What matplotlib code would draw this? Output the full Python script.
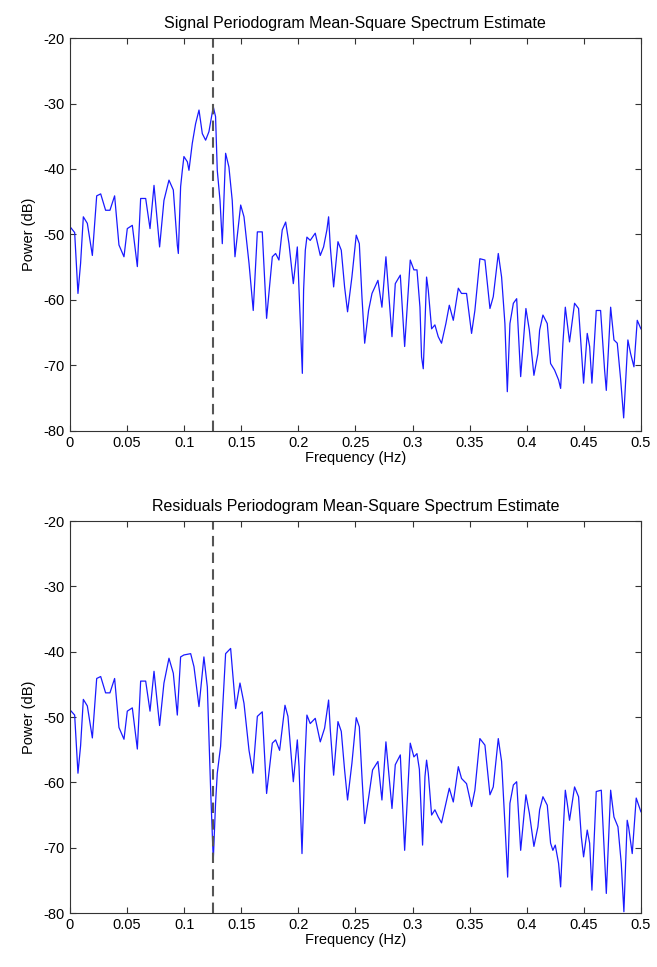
import numpy as np
import matplotlib
matplotlib.use("Agg")
import matplotlib.pyplot as plt

plt.rcParams['font.family'] = ['Liberation Sans', 'DejaVu Sans']
plt.rcParams['axes.unicode_minus'] = False

# Signal periodogram (Hz, dB)
f_sig = [0.0, 0.0041, 0.0070, 0.0093, 0.0117, 0.0152, 0.0196, 0.0234, 0.0269, 0.0312,
         0.0350, 0.0391, 0.0429, 0.0473, 0.0502, 0.0546, 0.0590, 0.0619, 0.0663, 0.0701,
         0.0736, 0.0785, 0.0823, 0.0867, 0.0905, 0.0940, 0.0949, 0.0969, 0.0984, 0.0998,
         0.1028, 0.1042, 0.1071, 0.1100, 0.1130, 0.1159, 0.1188, 0.1217, 0.1255, 0.1275,
         0.1290, 0.1314, 0.1334, 0.1363, 0.1392, 0.1421, 0.1445, 0.1495, 0.1524, 0.1568,
         0.1605, 0.1641, 0.1684, 0.1713, 0.1722, 0.1772, 0.1801, 0.1830, 0.1859, 0.1889,
         0.1918, 0.1956, 0.1991, 0.2006, 0.2035, 0.2046, 0.2061, 0.2075, 0.2104, 0.2148,
         0.2192, 0.2221, 0.2250, 0.2265, 0.2280, 0.2309, 0.2347, 0.2376, 0.2405, 0.2431,
         0.2469, 0.2507, 0.2534, 0.2557, 0.2581, 0.2615, 0.2645, 0.2697, 0.2732, 0.2767,
         0.2791, 0.2820, 0.2849, 0.2893, 0.2931, 0.2980, 0.3012, 0.3039, 0.3065, 0.3079,
         0.3094, 0.3109, 0.3123, 0.3138, 0.3167, 0.3196, 0.3225, 0.3254, 0.3292, 0.3322,
         0.3357, 0.3401, 0.3429, 0.3473, 0.3517, 0.3546, 0.3590, 0.3634, 0.3678, 0.3707,
         0.3751, 0.3780, 0.3809, 0.3830, 0.3853, 0.3883, 0.3912, 0.3947, 0.3993, 0.4023,
         0.4063, 0.4098, 0.4113, 0.4142, 0.4180, 0.4209, 0.4244, 0.4279, 0.4297, 0.4317,
         0.4338, 0.4355, 0.4375, 0.4419, 0.4454, 0.4478, 0.4498, 0.4530, 0.4551, 0.4571,
         0.4609, 0.4647, 0.4682, 0.4697, 0.4735, 0.4764, 0.4793, 0.4823, 0.4849, 0.4886,
         0.4910, 0.4939, 0.4968, 0.5]
p_sig = [-48.8, -49.7, -59.0, -54.4, -47.3, -48.3, -53.2, -44.1, -43.8, -46.3,
         -46.3, -44.1, -51.6, -53.4, -49.1, -48.6, -54.9, -44.5, -44.5, -49.1,
         -42.5, -51.9, -44.8, -41.7, -43.2, -51.6, -52.9, -42.7, -40.2, -38.1,
         -38.9, -40.2, -36.1, -33.1, -31.0, -34.6, -35.6, -34.3, -30.5, -32.0,
         -40.2, -44.8, -51.4, -37.6, -39.7, -44.8, -53.4, -45.5, -47.3, -54.4,
         -61.6, -49.6, -49.6, -59.5, -62.8, -53.4, -52.9, -53.9, -49.3, -48.1,
         -51.4, -57.5, -51.9, -58.5, -71.2, -58.5, -52.4, -50.4, -50.9, -49.8,
         -53.2, -51.9, -49.3, -47.3, -51.9, -58.0, -51.1, -52.4, -58.0, -61.8,
         -56.5, -50.1, -51.4, -59.5, -66.6, -61.6, -59.0, -57.0, -61.1, -53.4,
         -59.0, -65.6, -57.5, -56.2, -67.1, -53.9, -55.4, -55.4, -61.1, -68.7,
         -70.5, -63.6, -56.5, -58.5, -64.4, -63.8, -65.6, -66.6, -63.6, -60.8,
         -63.1, -58.2, -59.0, -59.0, -65.1, -61.6, -53.7, -53.9, -61.3, -59.5,
         -52.9, -56.5, -63.6, -74.0, -63.6, -60.5, -59.8, -71.7, -61.3, -64.6,
         -71.5, -68.2, -64.6, -62.3, -63.6, -69.7, -70.7, -72.2, -73.5, -66.6,
         -61.1, -63.6, -66.4, -60.5, -61.3, -67.6, -72.7, -65.1, -67.1, -72.7,
         -61.6, -61.6, -70.7, -73.8, -61.1, -66.1, -66.6, -72.2, -78.0, -66.1,
         -68.2, -70.2, -63.1, -64.4]

# Residuals periodogram (Hz, dB)
f_res = [0.0, 0.0041, 0.0070, 0.0093, 0.0117, 0.0152, 0.0196, 0.0234, 0.0269, 0.0312,
         0.0350, 0.0391, 0.0429, 0.0473, 0.0502, 0.0546, 0.0590, 0.0619, 0.0663, 0.0701,
         0.0736, 0.0785, 0.0823, 0.0867, 0.0905, 0.0940, 0.0969, 0.0998, 0.1057, 0.1086,
         0.1130, 0.1173, 0.1203, 0.1232, 0.1255, 0.1275, 0.1290, 0.1319, 0.1343, 0.1363,
         0.1407, 0.1451, 0.1489, 0.1524, 0.1568, 0.1602, 0.1641, 0.1684, 0.1722, 0.1772,
         0.1801, 0.1836, 0.1883, 0.1909, 0.1956, 0.1991, 0.2006, 0.2032, 0.2046, 0.2055,
         0.2075, 0.2104, 0.2148, 0.2192, 0.2230, 0.2265, 0.2280, 0.2309, 0.2347, 0.2376,
         0.2405, 0.2431, 0.2469, 0.2507, 0.2534, 0.2557, 0.2581, 0.2615, 0.2650, 0.2697,
         0.2732, 0.2767, 0.2796, 0.2820, 0.2849, 0.2893, 0.2931, 0.2980, 0.3012, 0.3039,
         0.3060, 0.3088, 0.3109, 0.3123, 0.3138, 0.3167, 0.3196, 0.3225, 0.3254, 0.3292,
         0.3322, 0.3357, 0.3401, 0.3429, 0.3473, 0.3517, 0.3546, 0.3590, 0.3634, 0.3678,
         0.3707, 0.3751, 0.3780, 0.3809, 0.3833, 0.3853, 0.3883, 0.3912, 0.3947, 0.3993,
         0.4023, 0.4063, 0.4098, 0.4113, 0.4142, 0.4180, 0.4209, 0.4229, 0.4250, 0.4279,
         0.4297, 0.4317, 0.4338, 0.4355, 0.4375, 0.4419, 0.4454, 0.4478, 0.4498, 0.4530,
         0.4551, 0.4571, 0.4609, 0.4653, 0.4682, 0.4697, 0.4735, 0.4764, 0.4799, 0.4828,
         0.4851, 0.4880, 0.4892, 0.4924, 0.4959, 0.5]
p_res = [-48.9, -49.7, -58.6, -54.4, -47.3, -48.3, -53.2, -44.1, -43.8, -46.3,
         -46.3, -44.1, -51.6, -53.4, -49.1, -48.6, -54.9, -44.5, -44.5, -49.1,
         -43.0, -51.3, -44.8, -41.0, -43.3, -49.7, -40.8, -40.5, -40.3, -42.3,
         -48.4, -40.8, -45.4, -61.2, -71.9, -63.2, -58.6, -54.5, -46.9, -40.3,
         -39.5, -48.7, -44.8, -47.9, -55.1, -58.6, -49.9, -49.2, -61.7, -54.0,
         -53.5, -55.1, -48.2, -49.9, -59.9, -53.5, -57.6, -70.9, -63.2, -57.6,
         -49.7, -51.0, -50.2, -53.8, -51.7, -47.4, -52.0, -58.9, -50.7, -52.2,
         -58.1, -62.7, -57.1, -50.1, -51.5, -59.1, -66.3, -62.4, -58.1, -56.8,
         -62.7, -53.8, -59.4, -64.0, -57.3, -55.8, -70.4, -54.0, -56.1, -55.6,
         -58.0, -69.6, -59.1, -56.6, -58.6, -65.0, -64.2, -65.3, -66.2, -63.2,
         -60.9, -63.0, -57.6, -59.4, -60.2, -63.7, -61.2, -53.3, -54.3, -61.9,
         -60.7, -53.3, -56.8, -66.3, -74.5, -63.2, -60.4, -59.9, -70.4, -61.9,
         -64.7, -69.8, -66.8, -64.2, -62.2, -63.5, -69.3, -70.4, -69.6, -72.4,
         -76.0, -68.3, -61.2, -63.2, -65.8, -60.7, -62.2, -68.3, -71.4, -67.3,
         -69.3, -76.5, -61.4, -61.2, -71.4, -77.0, -61.2, -65.3, -66.8, -72.4,
         -79.8, -65.8, -66.8, -70.9, -62.4, -64.5]

f_mark = 0.125
titles = ['Signal Periodogram Mean-Square Spectrum Estimate',
          'Residuals Periodogram Mean-Square Spectrum Estimate']
xticks = np.arange(0, 0.5001, 0.05)
xlabels = ['0', '0.05', '0.1', '0.15', '0.2', '0.25', '0.3', '0.35', '0.4', '0.45', '0.5']
yticks = [-20, -30, -40, -50, -60, -70, -80]

fig = plt.figure(figsize=(6.57, 9.67), dpi=100)
ax1 = fig.add_axes([0.1065, 0.5543, 0.869, 0.4064])
ax2 = fig.add_axes([0.1065, 0.0558, 0.869, 0.4054])

for ax, f, p, t in [(ax1, f_sig, p_sig, titles[0]), (ax2, f_res, p_res, titles[1])]:
    ax.plot(f, p, color='#1a1aff', linewidth=0.9)
    ax.axvline(f_mark, color='#555555', linestyle=(0, (5, 3)), linewidth=1.5)
    ax.set_xlim(0, 0.5)
    ax.set_ylim(-80, -20)
    ax.set_xticks(xticks)
    ax.set_xticklabels(xlabels)
    ax.set_yticks(yticks)
    ax.tick_params(direction='in', top=True, right=True, labelsize=10.5, length=4,
                   color='#333333')
    for s in ax.spines.values():
        s.set_color('#333333')
    ax.set_title(t, fontsize=11.5, pad=7)
    ax.set_xlabel('Frequency (Hz)', fontsize=10.5, labelpad=1)
    ax.set_ylabel('Power (dB)', fontsize=10.5, labelpad=6)

fig.savefig('out.png', dpi=100)
